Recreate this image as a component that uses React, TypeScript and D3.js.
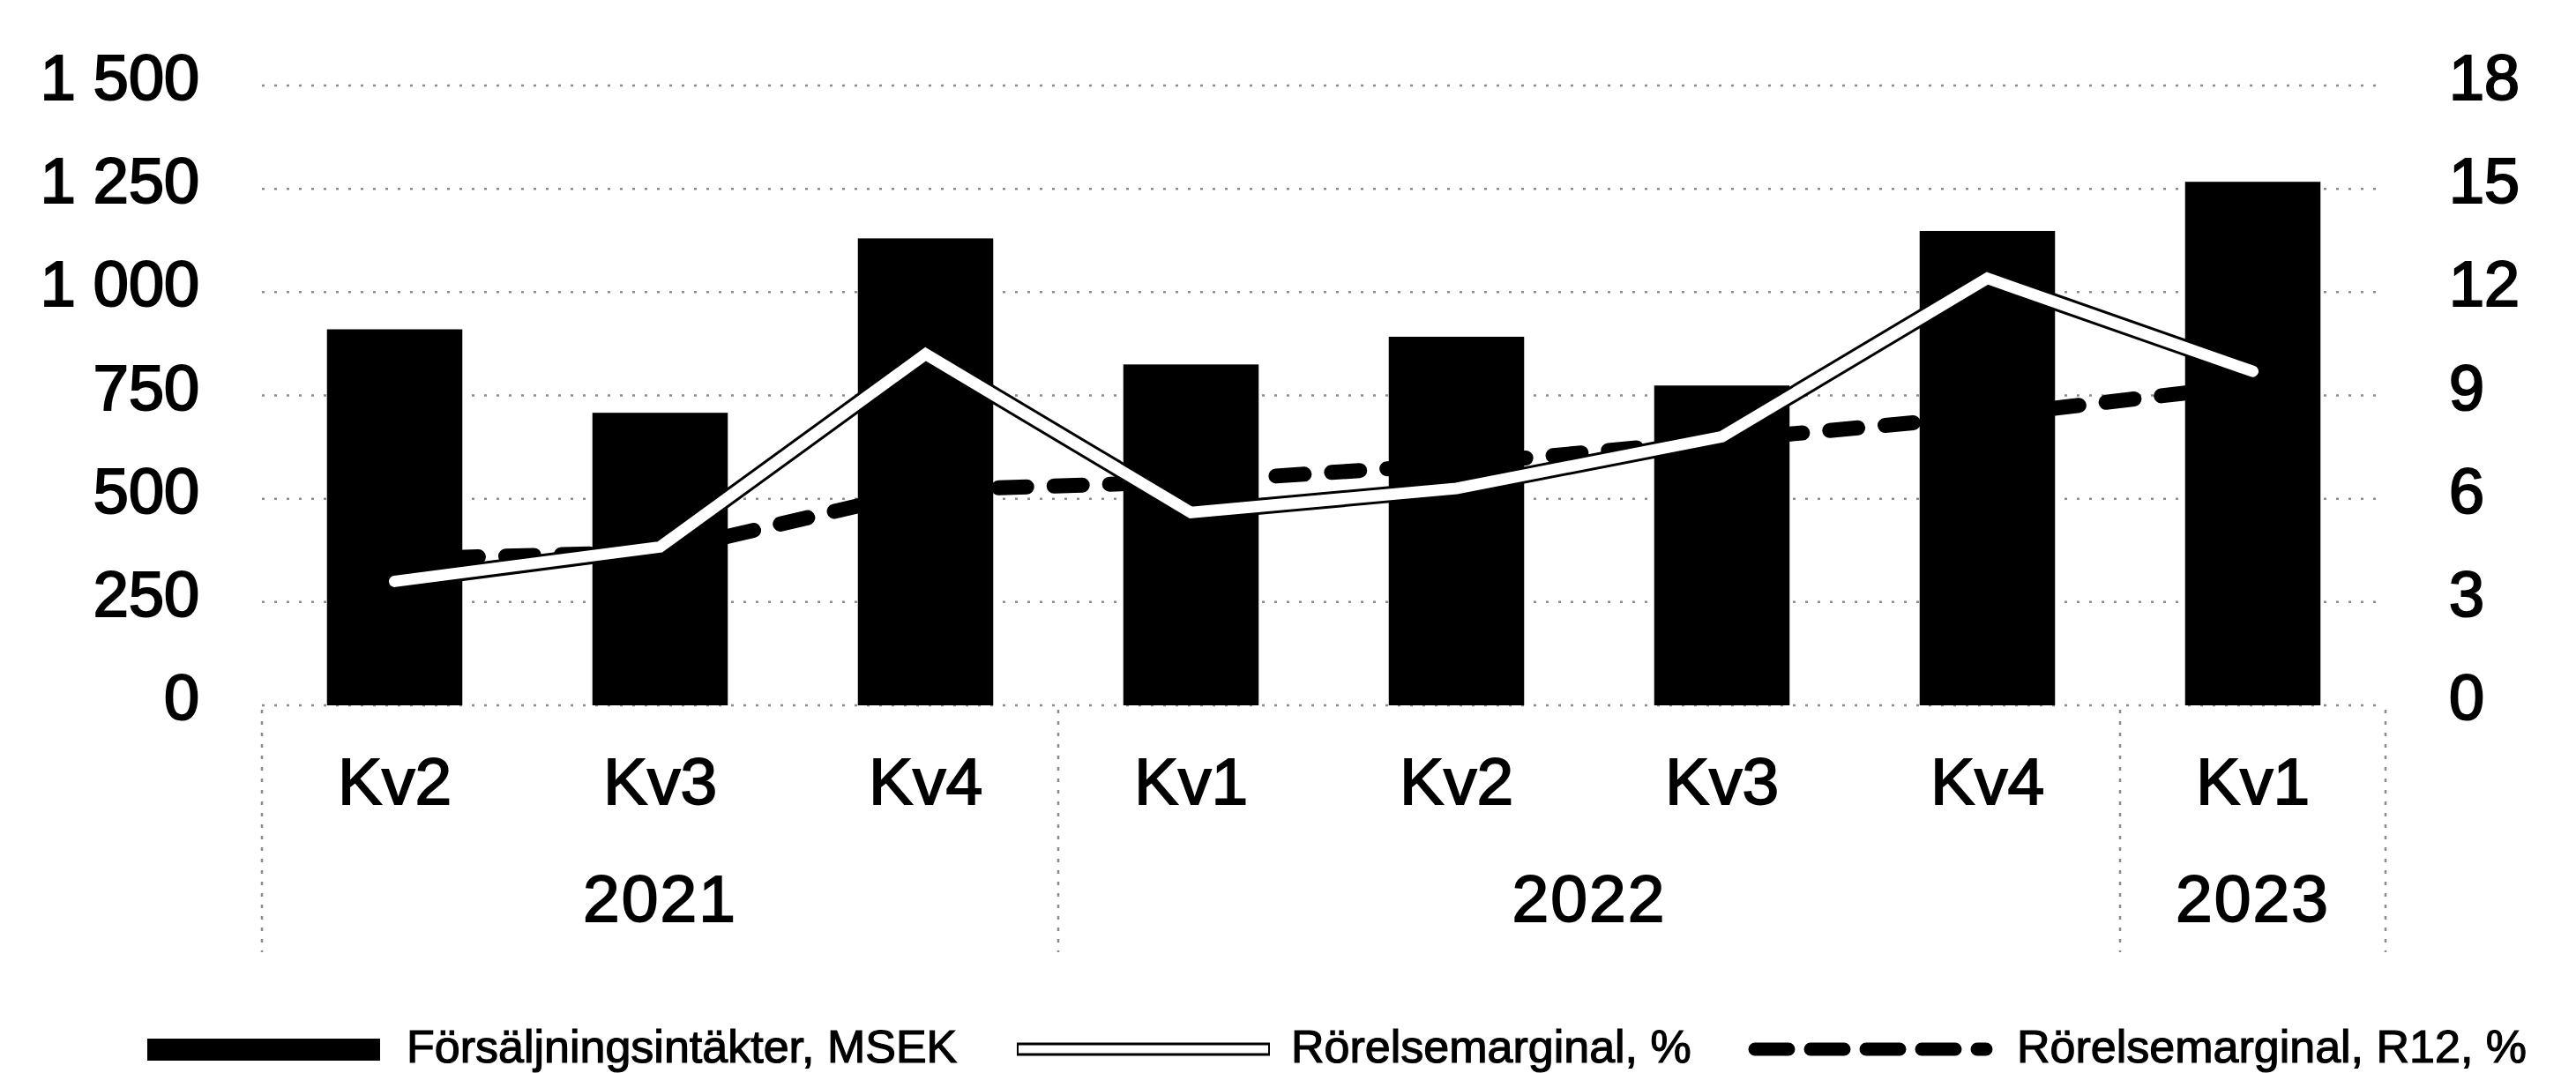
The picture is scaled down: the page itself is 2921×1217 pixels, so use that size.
import React from 'react';
import * as d3 from 'd3';

const quarters = ['Kv2', 'Kv3', 'Kv4', 'Kv1', 'Kv2', 'Kv3', 'Kv4', 'Kv1'];
const years = ['2021', '2021', '2021', '2022', '2022', '2022', '2022', '2023'];
const sales = [910, 708, 1130, 825, 892, 774, 1148, 1267];
const margin = [3.6, 4.6, 10.2, 5.6, 6.3, 7.8, 12.4, 9.7];
const marginR12 = [4.25, 4.45, 6.25, 6.5, 7.0, 7.7, 8.4, 9.3];
const leftTicks = [0, 250, 500, 750, 1000, 1250, 1500];
const rightTicks = [0, 3, 6, 9, 12, 15, 18];
const legendLabels = ['Försäljningsintäkter, MSEK', 'Rörelsemarginal, %', 'Rörelsemarginal, R12, %'];

const FONT = "'Liberation Sans', Arial, Helvetica, sans-serif";

export default function App() {
  const W = 2921, H = 1217;
  const x0 = 297, x1 = 2705, yTop = 97, yBot = 800;
  const ids = quarters.map((_, i) => String(i));
  const x = d3.scaleBand<string>().domain(ids).range([x0, x1]).paddingInner(0.49).paddingOuter(0.245);
  const yL = d3.scaleLinear().domain([0, 1500]).range([yBot, yTop]);
  const yR = d3.scaleLinear().domain([0, 18]).range([yBot, yTop]);
  const cx = (i: number) => (x(String(i)) as number) + x.bandwidth() / 2;
  const fmt = d3.formatLocale({ thousands: '\u00a0', grouping: [3], decimal: ',', currency: ['', ''] }).format(',');

  const lineGen = d3.line<number>().x((_, i) => cx(i)).y((d) => yR(d));

  // year groups
  const groups: { year: string; first: number; last: number }[] = [];
  years.forEach((yr, i) => {
    const g = groups[groups.length - 1];
    if (g && g.year === yr) g.last = i;
    else groups.push({ year: yr, first: i, last: i });
  });
  const seps: number[] = [x0];
  groups.forEach((g, gi) => {
    if (gi < groups.length - 1) seps.push((cx(g.last) + cx(g.last + 1)) / 2);
  });
  seps.push(x1);

  const textStyle = { fontFamily: FONT, fill: '#000', stroke: '#000', strokeWidth: 1.8 } as const;

  return (
    <svg width={W} height={H} style={{ position: 'absolute', left: 0, top: 0, background: '#fff' }}>
      <rect x={0} y={0} width={W} height={H} fill="#fff" />
      {/* gridlines */}
      {leftTicks.map((t) => (
        <line key={'g' + t} x1={x0} x2={x1} y1={yL(t)} y2={yL(t)} stroke="#666" strokeWidth={2.5}
          strokeDasharray="3 11" opacity={0.75} />
      ))}
      {/* left ticks */}
      {leftTicks.map((t) => (
        <text key={'l' + t} x={226} y={yL(t) + 16} textAnchor="end" fontSize={72} {...textStyle} strokeWidth={2.2}>{fmt(t)}</text>
      ))}
      {/* right ticks */}
      {rightTicks.map((t) => (
        <text key={'r' + t} x={2777} y={yR(t) + 16} textAnchor="start" fontSize={72} {...textStyle} strokeWidth={2.2}>{String(t)}</text>
      ))}
      {/* bars */}
      {sales.map((v, i) => (
        <rect key={'b' + i} x={x(String(i))} y={yL(v)} width={x.bandwidth()} height={yL(0) - yL(v)} fill="#000" />
      ))}
      {/* R12 dashed line */}
      <path d={lineGen(marginR12) || ''} fill="none" stroke="#000" strokeWidth={17} strokeDasharray="32 31"
        strokeLinecap="round" strokeLinejoin="round" />
      {/* margin line: white with black outline */}
      <path d={lineGen(margin) || ''} fill="none" stroke="#000" strokeWidth={19} strokeLinejoin="miter" strokeLinecap="round" />
      <path d={lineGen(margin) || ''} fill="none" stroke="#fff" strokeWidth={13} strokeLinejoin="miter" strokeLinecap="round" />
      {/* category labels */}
      {quarters.map((q, i) => (
        <text key={'q' + i} x={cx(i)} y={912} textAnchor="middle" fontSize={75} {...textStyle}>{q}</text>
      ))}
      {/* year labels */}
      {groups.map((g) => (
        <text key={'y' + g.year} x={(cx(g.first) + cx(g.last)) / 2} y={1045} textAnchor="middle" fontSize={75}
          letterSpacing={2} {...textStyle}>{g.year}</text>
      ))}
      {/* separators */}
      {seps.map((s, i) => (
        <line key={'s' + i} x1={s} x2={s} y1={805} y2={1080} stroke="#666" strokeWidth={2.5} strokeDasharray="4 9" opacity={0.75} />
      ))}
      {/* legend */}
      <rect x={167} y={1178} width={264} height={25} fill="#000" />
      <text x={461} y={1205} fontSize={52} {...textStyle} strokeWidth={1.2}>{legendLabels[0]}</text>
      <line x1={1153} x2={1440} y1={1190} y2={1190} stroke="#000" strokeWidth={15} />
      <line x1={1155} x2={1438} y1={1190} y2={1190} stroke="#fff" strokeWidth={9} />
      <text x={1464} y={1205} fontSize={52} {...textStyle} strokeWidth={1.2}>{legendLabels[1]}</text>
      <line x1={1990} x2={2252} y1={1190} y2={1190} stroke="#000" strokeWidth={15} strokeDasharray="38 25" strokeLinecap="round" />
      <text x={2287} y={1205} fontSize={52} {...textStyle} strokeWidth={1.2}>{legendLabels[2]}</text>
    </svg>
  );
}
